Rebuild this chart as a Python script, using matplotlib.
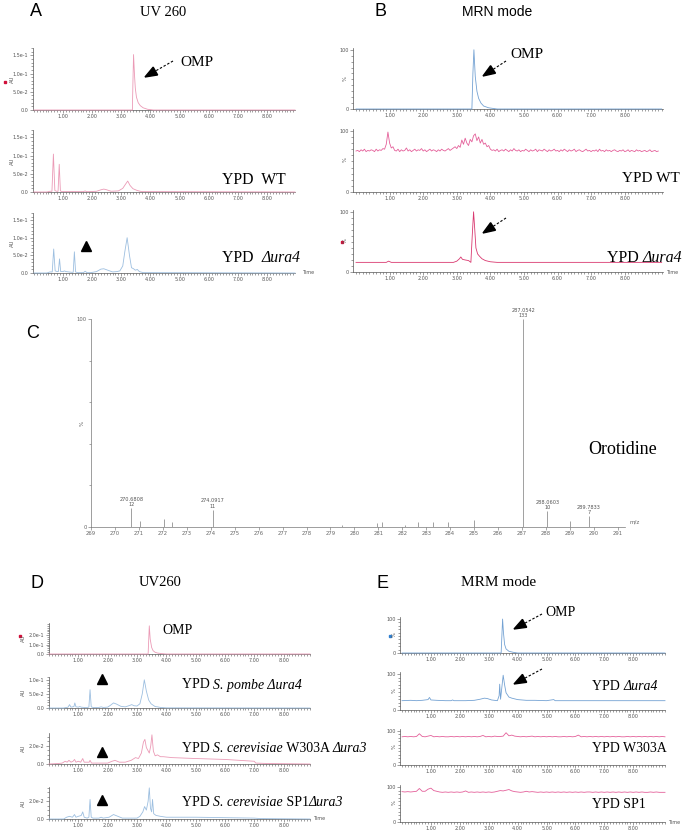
import numpy as np
import matplotlib.pyplot as plt
from matplotlib.patches import Polygon
from matplotlib.ticker import MultipleLocator, FixedLocator

SERIF = 'Liberation Serif'
SANS = 'Liberation Sans'

# ---------------- data ----------------
# A: UV 260 traces (AU)
a_omp_t = [0, 3.38, 3.40, 3.42, 3.45, 3.48, 3.52, 3.58, 3.65, 3.75, 3.9, 4.1, 8.96]
a_omp_y = [0, 0, 0.08, 0.152, 0.10, 0.06, 0.035, 0.02, 0.012, 0.006, 0.002, 0, 0]

a_wt_t = [0, 0.45, 0.55, 0.62, 0.67, 0.72, 0.78, 0.83, 0.87, 0.91, 0.96, 1.1, 1.7, 1.76,
          1.8, 1.9, 2.15, 2.3, 2.4, 2.5, 2.65, 2.9, 3.05, 3.15, 3.22, 3.3, 3.4, 3.55, 3.7, 8.96]
a_wt_y = [0, 0, 0.002, 0.002, 0.104, 0.004, 0.002, 0.002, 0.076, 0.003, 0.001, 0.001, 0.001, 0.003,
          0.001, 0.001, 0.002, 0.006, 0.008, 0.006, 0.002, 0.003, 0.01, 0.022, 0.03, 0.018, 0.009,
          0.004, 0.001, 0]

a_ura_t = [0, 0.45, 0.55, 0.63, 0.68, 0.73, 0.8, 0.84, 0.88, 0.92, 1.0, 1.05, 1.1, 1.2, 1.3,
           1.35, 1.39, 1.43, 1.5, 1.7, 1.76, 1.82, 1.95, 2.15, 2.3, 2.4, 2.5, 2.7, 2.85, 2.95,
           3.05, 3.12, 3.2, 3.28, 3.35, 3.42, 3.48, 3.55, 3.62, 3.75, 8.96]
a_ura_y = [0, 0, 0.003, 0.003, 0.068, 0.006, 0.004, 0.004, 0.04, 0.004, 0.004, 0.006, 0.004,
           0.003, 0.002, 0.002, 0.06, 0.003, 0.001, 0.001, 0.005, 0.001, 0.001, 0.004, 0.011,
           0.012, 0.009, 0.003, 0.004, 0.006, 0.02, 0.06, 0.1, 0.05, 0.015, 0.012, 0.008, 0.01,
           0.004, 0.001, 0]

# B: MRM traces (%)
b_omp_t = [0, 3.45, 3.48, 3.51, 3.55, 3.6, 3.65, 3.72, 3.8, 3.95, 4.2, 9.1]
b_omp_y = [0, 0, 60, 100, 55, 30, 18, 10, 5, 2, 0, 0]

b_wt_y = [67, 68, 66, 69, 67, 70, 66, 68, 67, 69, 68, 66, 70, 67, 69, 68, 71, 70, 78, 98,
          80, 72, 74, 68, 67, 70, 66, 69, 67, 68, 72, 67, 69, 66, 68, 70, 67, 69, 68, 71,
          67, 69, 66, 68, 70, 67, 69, 68, 66, 69, 67, 70, 68, 67, 69, 71, 68, 70, 72, 74,
          71, 76, 73, 85, 78, 88, 80, 76, 86, 82, 92, 95, 84, 90, 80, 86, 78, 80, 74, 76,
          70, 68, 69, 67, 70, 66, 68, 69, 67, 70, 68, 66, 69, 67, 71, 68, 67, 69, 66, 68,
          67, 70, 68, 66, 69, 67, 68, 70, 66, 69, 68, 67, 70, 68, 66, 69, 67, 68, 70, 67,
          68, 66, 69, 67, 70, 68, 66, 69, 67, 68, 70, 66, 68, 69, 67, 66, 68, 70, 67, 68,
          66, 68, 67, 69, 66, 70, 67, 68, 66, 69, 67, 68, 66, 68, 69, 67, 66, 68, 67, 69,
          66, 67, 69, 66, 68, 67, 66, 69, 67, 68, 66, 67, 68, 66, 67, 69, 66, 67, 68, 66,
          67]

b_ura_t = [0, 0.9, 0.97, 1.05, 2.9, 3.0, 3.08, 3.12, 3.17, 3.25, 3.35, 3.42, 3.46, 3.5, 3.53,
           3.57, 3.62, 3.68, 3.75, 3.85, 4.0, 4.2, 9.1]
b_ura_y = [16, 16, 18, 16, 16, 18, 22, 25, 21, 20, 19, 16, 60, 100, 75, 40, 30, 26, 22, 19,
           17, 16, 16]

# C: mass spectrum (m/z, counts; 133 = 100 %)
c_mz = [270.6808, 271.05, 272.05, 272.4, 274.0917, 279.5, 280.95, 281.15, 282.1, 282.65,
        283.3, 283.9, 285.0, 287.0542, 288.0603, 289.0, 289.7833]
c_counts = [12, 4, 5, 3, 11, 1.5, 2.5, 3.5, 1.5, 3.5, 3, 3, 4.5, 133, 10, 4, 7]
c_peak_labels = {270.6808: ('270.6808', '12'), 274.0917: ('274.0917', '11'),
                 287.0542: ('287.0542', '133'), 288.0603: ('288.0603', '10'),
                 289.7833: ('289.7833', '7')}

# D: UV260 traces (AU)
d_omp_t = [0, 3.38, 3.40, 3.42, 3.45, 3.5, 3.55, 3.62, 3.7, 3.85, 4.0, 8.9]
d_omp_y = [0, 0, 0.15, 0.30, 0.16, 0.07, 0.035, 0.018, 0.01, 0.004, 0, 0]

d_pombe_t = [0, 0.5, 0.6, 0.65, 0.7, 0.75, 0.8, 0.85, 0.88, 0.92, 1.0, 1.05, 1.1, 1.2, 1.3,
             1.36, 1.4, 1.44, 1.5, 1.7, 1.78, 1.85, 2.0, 2.1, 2.2, 2.3, 2.45, 2.6, 2.75, 2.82,
             2.9, 3.0, 3.1, 3.18, 3.25, 3.32, 3.4, 3.48, 3.55, 3.62, 3.7, 3.8, 4.0, 8.9]
d_pombe_y = [0, 0, 0.002, 0.003, 0.012, 0.003, 0.004, 0.005, 0.018, 0.004, 0.003, 0.005, 0.003,
             0.002, 0.002, 0.003, 0.065, 0.004, 0.002, 0.002, 0.004, 0.002, 0.003, 0.01, 0.018,
             0.014, 0.006, 0.004, 0.009, 0.012, 0.008, 0.007, 0.015, 0.05, 0.1, 0.06, 0.028,
             0.015, 0.01, 0.005, 0.004, 0.002, 0.0005, 0]

d_w303_t = [0, 0.3, 0.45, 0.55, 0.62, 0.68, 0.75, 0.82, 0.87, 0.92, 1.0, 1.08, 1.15, 1.2, 1.3,
            1.37, 1.4, 1.45, 1.6, 1.8, 2.0, 2.15, 2.25, 2.4, 2.6, 2.8, 2.95, 3.05, 3.15, 3.22,
            3.27, 3.32, 3.37, 3.42, 3.47, 3.51, 3.56, 3.62, 3.7, 3.8, 3.9, 4.2, 5.0, 6.0, 7.0,
            7.05, 7.5, 8.9]
d_w303_y = [0, 0.0005, 0.001, 0.003, 0.002, 0.004, 0.002, 0.003, 0.005, 0.002, 0.003, 0.002,
            0.006, 0.002, 0.002, 0.002, 0.004, 0.001, 0.001, 0.001, 0.001, 0.003, 0.004, 0.002,
            0.002, 0.004, 0.007, 0.006, 0.012, 0.024, 0.027, 0.018, 0.015, 0.012, 0.02, 0.032,
            0.014, 0.009, 0.01, 0.008, 0.008, 0.007, 0.006, 0.005, 0.003, 0.001, 0.0005, 0]

d_sp1_t = [0, 0.5, 0.6, 0.7, 0.8, 0.87, 0.92, 1.0, 1.1, 1.15, 1.2, 1.3, 1.36, 1.4, 1.44, 1.5,
           1.7, 1.78, 1.85, 2.05, 2.2, 2.35, 2.5, 3.0, 3.1, 3.2, 3.26, 3.32, 3.38, 3.42, 3.46,
           3.5, 3.53, 3.57, 3.65, 3.8, 4.0, 5.0, 6.0, 7.0, 7.2, 8.9]
d_sp1_y = [0, 0, 0.002, 0.003, 0.002, 0.005, 0.002, 0.003, 0.004, 0.008, 0.002, 0.001, 0.002,
           0.022, 0.002, 0.001, 0.001, 0.002, 0.001, 0.002, 0.005, 0.003, 0.001, 0.001, 0.003,
           0.008, 0.014, 0.01, 0.02, 0.035, 0.012, 0.008, 0.022, 0.006, 0.004, 0.003, 0.002,
           0.002, 0.0015, 0.001, 0.0005, 0]

# E: MRM traces (%)
e_omp_t = [0, 3.43, 3.46, 3.48, 3.51, 3.55, 3.6, 3.7, 3.85, 4.0, 9.1]
e_omp_y = [0, 0, 60, 100, 60, 25, 12, 5, 2, 0, 0]

e_ura_t = [0, 0.3, 0.5, 0.7, 0.9, 0.95, 1.0, 1.2, 1.5, 1.7, 1.75, 1.8, 2.2, 2.5, 2.7, 2.85,
           2.95, 3.1, 3.3, 3.36, 3.38, 3.41, 3.45, 3.5, 3.55, 3.6, 3.65, 3.7, 3.8, 3.9, 4.0,
           4.3, 4.6, 5.0, 5.25, 5.3, 5.5, 6.0, 9.1]
e_ura_y = [26, 27, 26, 27, 29, 35, 28, 27, 26, 26, 28, 26, 26, 27, 30, 33, 32, 28, 26, 40, 72,
           30, 60, 97, 70, 48, 42, 36, 33, 31, 29, 27, 27, 26, 29, 26, 26, 26, 26]

e_w303_y = [83, 84, 83, 84, 83, 84, 92, 84, 83, 85,
            87, 83, 84, 83, 84, 83, 83, 84, 83, 84,
            83, 84, 83, 84, 83, 84, 83, 84, 87, 83,
            84, 83, 85, 84, 84, 85, 95, 86, 88, 85,
            84, 83, 84, 83, 84, 85, 83, 84, 83, 84,
            83, 84, 83, 84, 83, 83, 84, 83, 84, 83,
            84, 88, 83, 84, 83, 84, 83, 84, 83, 84,
            83, 84, 83, 84, 83, 84, 83, 83, 84, 83,
            84, 83, 84, 83, 84, 83, 84, 83, 84, 83,
            84, 83]

e_sp1_y = [87, 86, 87, 86, 87, 88, 96, 88, 88, 94,
           97, 90, 88, 86, 85, 86, 85, 86, 85, 86,
           85, 86, 89, 85, 86, 85, 86, 85, 86, 85,
           86, 85, 86, 88, 90, 89, 91, 93, 89, 87,
           86, 85, 86, 88, 86, 87, 86, 85, 86, 85,
           86, 85, 86, 85, 86, 85, 86, 85, 86, 85,
           86, 85, 86, 85, 86, 86, 85, 86, 85, 86,
           85, 86, 85, 86, 85, 86, 85, 86, 85, 86,
           85, 86, 85, 86, 85, 85, 86, 85, 86, 85,
           85, 85]

time_ticks = [1, 2, 3, 4, 5, 6, 7, 8]
time_labels = ['1.00', '2.00', '3.00', '4.00', '5.00', '6.00', '7.00', '8.00']

PINK_UV = '#eb9ab6'
BLUE_UV = '#9dbfe0'
BLUE_MS = '#74a2d3'
PINK_MS = '#e4609a'
RED_MS = '#d9386f'
AXC = '#555555'

# ---------------- figure ----------------
W, H = 696, 832
fig = plt.figure(figsize=(W / 100, H / 100), dpi=100)


def box(x0, x1, ytop, ybot):
    return fig.add_axes([x0 / W, 1 - ybot / H, (x1 - x0) / W, (ybot - ytop) / H])


def chrom(pos, t, y, color, xlim, ylim, yticks, ylabels, yminor):
    ax = box(*pos)
    ax.plot(t, y, color=color, lw=0.6, clip_on=False, zorder=3)
    ax.set_xlim(*xlim)
    ax.set_ylim(*ylim)
    ax.patch.set_alpha(0)
    for s in ('top', 'right'):
        ax.spines[s].set_visible(False)
    for s in ('left', 'bottom'):
        ax.spines[s].set_linewidth(0.5)
        ax.spines[s].set_color(AXC)
    ax.set_xticks(time_ticks)
    ax.set_xticklabels(time_labels)
    ax.xaxis.set_minor_locator(MultipleLocator(0.1))
    ax.set_yticks(yticks)
    ax.set_yticklabels(ylabels)
    ax.yaxis.set_minor_locator(MultipleLocator(yminor))
    ax.tick_params(which='both', width=0.4, labelsize=3.5, pad=1, colors=AXC)
    ax.tick_params(which='major', length=2.2)
    ax.tick_params(which='minor', length=1.1)
    return ax


ytA = ([0, 0.05, 0.1, 0.15], ['0.0', '5.0e-2', '1.0e-1', '1.5e-1'], 0.01)
ytP = ([0, 100], ['0', '100'], 10)

# A
xA = (-0.03, 8.96)
chrom((33, 295, 48, 110), a_omp_t, a_omp_y, PINK_UV, xA, (0, 0.17), *ytA)
chrom((33, 295, 130, 192), a_wt_t, a_wt_y, PINK_UV, xA, (0, 0.17), *ytA)
chrom((33, 295, 213, 273), a_ura_t, a_ura_y, BLUE_UV, xA, (0, 0.17), *ytA)

# B
xB = (-0.09, 9.14)
chrom((353, 663, 48, 109), b_omp_t, b_omp_y, BLUE_MS, xB, (0, 103), *ytP)
chrom((353, 663, 129, 192), np.linspace(0, 9.0, len(b_wt_y)), b_wt_y, PINK_MS, xB, (0, 103), *ytP)
chrom((353, 663, 210, 272), b_ura_t, b_ura_y, RED_MS, xB, (0, 103), *ytP)

# C
axc = box(91, 625, 319, 527)
axc.vlines(c_mz, 0, c_counts, color='#a0a0a0', lw=0.7)
axc.set_xlim(269, 291.3)
axc.set_ylim(0, 133)
axc.patch.set_alpha(0)
for s in ('top', 'right'):
    axc.spines[s].set_visible(False)
for s in ('left', 'bottom'):
    axc.spines[s].set_linewidth(0.5)
    axc.spines[s].set_color('#777777')
axc.set_xticks(range(269, 292))
axc.set_xticklabels([str(v) for v in range(269, 292)])
axc.set_yticks([0, 133])
axc.set_yticklabels(['0', '100'])
axc.yaxis.set_minor_locator(FixedLocator([26.6, 53.2, 79.8, 106.4]))
axc.tick_params(which='both', width=0.4, labelsize=3.8, pad=1, colors='#666666')
axc.tick_params(which='major', length=2.2)
axc.tick_params(which='minor', length=1.2)
for mz, cnt in zip(c_mz, c_counts):
    if mz in c_peak_labels:
        name, num = c_peak_labels[mz]
        axc.annotate(num, (mz, cnt), xytext=(0, 0.8), textcoords='offset points',
                     ha='center', va='bottom', fontsize=3.6, color='#555555',
                     annotation_clip=False)
        axc.annotate(name, (mz, cnt), xytext=(0, 4.6), textcoords='offset points',
                     ha='center', va='bottom', fontsize=3.6, color='#555555',
                     annotation_clip=False)

# D
xD = (0, 8.9)
chrom((49, 310, 623, 654), d_omp_t, d_omp_y, PINK_UV, xD, (0, 0.33),
      [0, 0.1, 0.2], ['0.0', '1.0e-1', '2.0e-1'], 0.02)
chrom((49, 310, 677, 708), d_pombe_t, d_pombe_y, BLUE_UV, xD, (0, 0.11),
      [0, 0.05, 0.1], ['0.0', '5.0e-2', '1.0e-1'], 0.01)
chrom((49, 310, 733, 764), d_w303_t, d_w303_y, PINK_UV, xD, (0, 0.034),
      [0, 0.02], ['0.0', '2.0e-2'], 0.005)
chrom((49, 310, 787, 819), d_sp1_t, d_sp1_y, BLUE_UV, xD, (0, 0.036),
      [0, 0.02], ['0.0', '2.0e-2'], 0.005)

# E
xE = (-0.07, 9.1)
chrom((400, 665, 617, 653), e_omp_t, e_omp_y, BLUE_MS, xE, (0, 106), *ytP)
chrom((400, 665, 672, 710), e_ura_t, e_ura_y, BLUE_MS, xE, (0, 106), *ytP)
chrom((400, 665, 729, 765), np.linspace(0, 9.1, len(e_w303_y)), e_w303_y, PINK_MS, xE, (0, 106), *ytP)
chrom((400, 665, 785, 822), np.linspace(0, 9.1, len(e_sp1_y)), e_sp1_y, PINK_MS, xE, (0, 106), *ytP)

# ---------------- overlay: letters, titles, labels, arrows ----------------
ov = fig.add_axes([0, 0, 1, 1], zorder=10)
ov.set_xlim(0, W)
ov.set_ylim(H, 0)
ov.axis('off')
renderer = fig.canvas.get_renderer()


def txt(x, y, s, size=11, family=SERIF, ha='left', **kw):
    ov.text(x, y, s, fontsize=size, family=family, ha=ha, va='center', **kw)


def rich(x, y, parts, size):
    # consecutive pieces of upright / italic serif text
    for s, style in parts:
        t = ov.text(x, y, s, fontsize=size, family=SERIF, style=style, ha='left', va='center')
        bb = t.get_window_extent(renderer)
        x = ov.transData.inverted().transform((bb.x1, bb.y0))[0]


def arrow(x0, y0, x1, y1, head=12, width=9):
    d = np.array([x1 - x0, y1 - y0], dtype=float)
    d /= np.hypot(*d)
    base = np.array([x1, y1]) - d * head
    perp = np.array([-d[1], d[0]])
    ov.plot([x0, base[0]], [y0, base[1]], color='k', lw=0.8, ls=(0, (2.2, 1.6)))
    ov.add_patch(Polygon([(x1, y1), base + perp * width / 2, base - perp * width / 2],
                         closed=True, color='k'))


for s, x, y in [('A', 36, 11), ('B', 381, 11), ('C', 33, 333), ('D', 37, 583), ('E', 383, 583)]:
    txt(x, y, s, size=13, family=SANS, ha='center')

txt(163, 12, 'UV 260', size=10.5, ha='center')
txt(497, 12, 'MRN mode', size=10, family=SANS, ha='center')
txt(160, 583, 'UV260', size=10.5, ha='center')
txt(499, 583, 'MRM mode', size=11, ha='center')

# panel A labels
txt(180, 62, 'OMP', size=11)
txt(222, 180, 'YPD  WT', size=11.3)
rich(222, 258, [('YPD  ', 'normal'), ('Δura4', 'italic')], 11.3)
arrow(173, 61, 145, 77)
ov.plot([86], [246], marker='^', ms=7, color='k')

# panel B labels
txt(510, 55, 'OMP', size=11)
txt(622, 178, 'YPD WT', size=11)
rich(607, 258, [('YPD ', 'normal'), ('Δura4', 'italic')], 11.5)
arrow(506, 61, 483, 76)
arrow(506, 218, 483, 233)

# panel C labels
txt(588, 449, 'Orotidine', size=13)
ov.text(82, 423, '%', fontsize=4, rotation=90, ha='center', va='center', color='#666666')
ov.text(630, 522, 'm/z', fontsize=4, ha='left', va='center', color='#666666')

# panel D labels
txt(162, 630, 'OMP', size=10)
rich(182, 685, [('YPD ', 'normal'), ('S. pombe Δura4', 'italic')], 10)
rich(182, 748, [('YPD ', 'normal'), ('S. cerevisiae', 'italic'), (' W303A ', 'normal'),
                ('Δura3', 'italic')], 10)
rich(182, 803, [('YPD ', 'normal'), ('S. cerevisiae', 'italic'), (' SP1', 'normal'),
                ('Δura3', 'italic')], 10)
for y in (679, 752, 800):
    ov.plot([102], [y], marker='^', ms=7, color='k')

# panel E labels
txt(545, 613, 'OMP', size=10)
rich(592, 686, [('YPD ', 'normal'), ('Δura4', 'italic')], 10)
txt(592, 749, 'YPD W303A', size=10)
txt(592, 804, 'YPD SP1', size=10)
arrow(542, 614, 514, 629)
arrow(542, 669, 514, 684)

# axis titles
small = dict(fontsize=3.8, rotation=90, ha='center', va='center', color=AXC)
for y in (79, 161, 243):
    ov.text(12, y, 'AU', **small)
for y in (79, 160, 241):
    ov.text(345, y, '%', **small)
for y in (638, 692, 748, 803):
    ov.text(23, y, 'AU', **small)
for y in (635, 691, 747, 803):
    ov.text(394, y, '%', **small)
for x, y in [(302, 273), (666, 272), (313, 819), (668, 822)]:
    ov.text(x, y, 'Time', fontsize=3.5, ha='left', va='center', color=AXC)

# small channel markers
ov.plot([5], [82], marker='s', ms=2, color='#d0103a')
ov.plot([342], [242], marker='s', ms=2, color='#d0103a')
ov.plot([20], [636], marker='s', ms=2, color='#d0103a')
ov.plot([390], [636], marker='s', ms=2, color='#2f7fd0')

fig.savefig('out.png', dpi=100)
